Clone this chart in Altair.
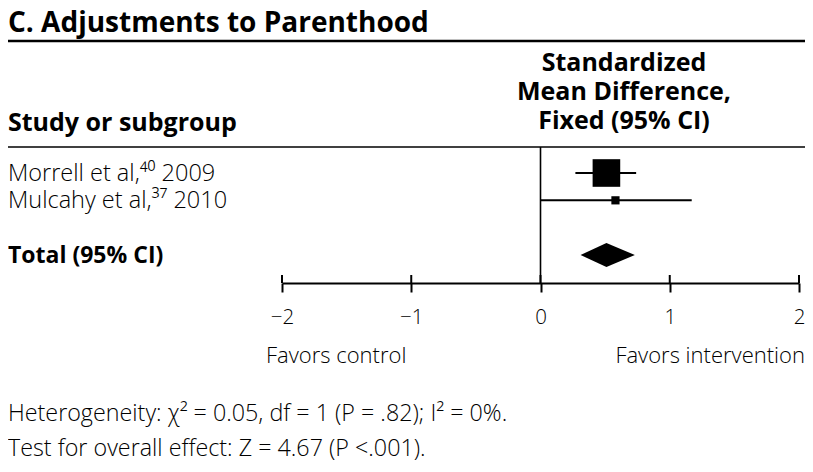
import altair as alt
import pandas as pd

# ---- data ----
studies = ["Morrell et al,\u2074\u2070 2009", "Mulcahy et al,\u00b3\u2077 2010"]
study_row = [0, 1]
smd = [0.51, 0.58]
ci_low = [0.27, 0.00]
ci_high = [0.74, 1.17]
weight = [91.9, 8.1]

total_label = ["Total (95% CI)"]
total_row = [3]
total_smd = [0.51]
total_low = [0.31]
total_high = [0.73]

ticks = [-2, -1, 0, 1, 2]

title_text = "C. Adjustments to Parenthood"
header_left = "Study or subgroup"
header_right = ["Standardized", "Mean Difference,", "Fixed (95% CI)"]
favors_left = "Favors control"
favors_right = "Favors intervention"
footer = [
    "Heterogeneity: \u03c7\u00b2 = 0.05, df = 1 (P = .82); I\u00b2 = 0%.",
    "Test for overall effect: Z = 4.67 (P <.001).",
]

FONT = "Open Sans"
LIGHT = 300
W, H, TOTAL_H = 797, 275, 456

studies_df = pd.DataFrame({"study": studies, "row": study_row, "smd": smd,
                           "lo": ci_low, "hi": ci_high, "w": weight})
total_df = pd.DataFrame({"label": total_label, "row": total_row, "smd": total_smd,
                         "lo": total_low, "hi": total_high})
diamond_df = pd.DataFrame({
    "part": ["lo", "est", "hi"],
    "x": [total_low[0], total_smd[0], total_high[0]],
    "row": [total_row[0]] * 3,
})
ticks_df = pd.DataFrame({"t": ticks})
zero_df = pd.DataFrame({"x": [0]})
one = pd.DataFrame({"a": [0]})

xscale = alt.Scale(domain=[-2, 2], range=[274, 791], nice=False, zero=False)
yscale = alt.Scale(domain=[0, 3], range=[165, 247], nice=False, zero=False)
xaxis = alt.Axis(values=ticks, orient="bottom", grid=False, title=None,
                 domainColor="black", domainWidth=2, tickColor="black",
                 tickWidth=2, tickSize=9, labelFontSize=20.5, labelFont=FONT,
                 labelFontWeight=LIGHT, labelColor="black", labelPadding=15,
                 labelFlush=False)

def X(field):
    return alt.X(field, type="quantitative", scale=xscale, axis=xaxis)

def Y(field):
    return alt.Y(field, type="quantitative", scale=yscale, axis=None)

rule_top = alt.Chart(one).mark_rule(color="black", strokeWidth=2.5).encode(
    x=alt.value(0), x2=alt.value(W), y=alt.value(33))
rule_hdr = alt.Chart(one).mark_rule(color="black", strokeWidth=1.6).encode(
    x=alt.value(0), x2=alt.value(W), y=alt.value(139))

zero_line = alt.Chart(zero_df).mark_rule(color="black", strokeWidth=1.6).encode(
    x=X("x"), y=alt.value(139), y2=alt.value(H))

tick_up = alt.Chart(ticks_df).mark_rule(color="black", strokeWidth=2).encode(
    x=X("t"), y=alt.value(H - 8), y2=alt.value(H))

ci = alt.Chart(studies_df).mark_rule(color="black", strokeWidth=2).encode(
    x=X("lo"), x2="hi", y=Y("row"))

squares = alt.Chart(studies_df).mark_point(shape="square", filled=True, opacity=1,
                                           color="black").encode(
    x=X("smd"), y=Y("row"),
    size=alt.Size("w", type="quantitative",
                  scale=alt.Scale(domain=[0, 100], range=[0, 830]), legend=None))

diamond = alt.Chart(diamond_df).transform_calculate(
    half="datum.part == 'est' ? 0.44 : 0",
    y1="datum.row - datum.half", y2="datum.row + datum.half",
).mark_area(color="black", orient="vertical", opacity=1).encode(
    x=X("x"), y=Y("y1"), y2="y2")

labels = alt.Chart(studies_df).mark_text(align="left", baseline="alphabetic", font=FONT,
                                         fontSize=23.5, fontWeight=LIGHT, color="black",
                                         dy=8).encode(
    x=alt.value(0), y=Y("row"), text="study")

total_text = alt.Chart(total_df).mark_text(align="left", baseline="alphabetic", font=FONT,
                                           fontSize=23, fontWeight="bold",
                                           color="black", dy=8).encode(
    x=alt.value(0), y=Y("row"), text="label")

title = alt.Chart(one).mark_text(align="left", baseline="alphabetic", font=FONT,
                                 fontSize=28, fontWeight="bold", color="black").encode(
    x=alt.value(0), y=alt.value(24), text=alt.value(title_text))

hdr_left = alt.Chart(one).mark_text(align="left", baseline="alphabetic", font=FONT,
                                    fontSize=25, fontWeight="bold", color="black").encode(
    x=alt.value(0), y=alt.value(123), text=alt.value(header_left))

hdr_right = alt.Chart(one).mark_text(align="center", baseline="alphabetic", font=FONT,
                                     fontSize=25, fontWeight="bold", color="black",
                                     lineHeight=29).encode(
    x=alt.value(616), y=alt.value(63), text=alt.value(header_right))

fav_l = alt.Chart(one).mark_text(align="left", baseline="alphabetic", font=FONT,
                                 fontSize=22, fontWeight=LIGHT, color="black").encode(
    x=alt.value(258), y=alt.value(355), text=alt.value(favors_left))
fav_r = alt.Chart(one).mark_text(align="right", baseline="alphabetic", font=FONT,
                                 fontSize=22, fontWeight=LIGHT, color="black").encode(
    x=alt.value(W), y=alt.value(355), text=alt.value(favors_right))

foot = alt.Chart(one).mark_text(align="left", baseline="alphabetic", font=FONT,
                                fontSize=23.3, fontWeight=LIGHT, color="black",
                                lineHeight=35).encode(
    x=alt.value(0), y=alt.value(413), text=alt.value(footer))

chart = alt.layer(
    rule_top, rule_hdr, zero_line, tick_up, ci, squares, diamond,
    labels, total_text, title, hdr_left, hdr_right, fav_l, fav_r, foot,
).properties(
    width=W, height=H,
    autosize=alt.AutoSizeParams(type="none"),
    padding={"left": 0, "top": 0, "right": 0, "bottom": TOTAL_H - H},
).configure_view(stroke=None)

chart.save("out.html", embed_options={"renderer": "svg", "actions": False})
